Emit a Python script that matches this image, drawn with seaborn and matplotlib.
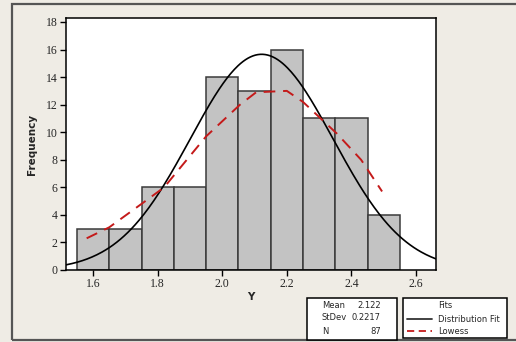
import numpy as np
import matplotlib
matplotlib.use("Agg")
import matplotlib.pyplot as plt
import seaborn as sns
from matplotlib.patches import Rectangle

# histogram bins (edges) and counts
bin_edges = [1.55, 1.65, 1.75, 1.85, 1.95, 2.05, 2.15, 2.25, 2.35, 2.45, 2.55]
counts = [3, 3, 6, 6, 14, 13, 16, 11, 11, 4]
bin_mids = [1.6, 1.7, 1.8, 1.9, 2.0, 2.1, 2.2, 2.3, 2.4, 2.5]

# summary stats
mean_y = 2.122
sd_y = 0.2217
n_obs = 87

# lowess curve points
lowess_x = [1.58, 1.65, 1.75, 1.82, 1.855, 1.95, 2.055, 2.105, 2.2, 2.25, 2.355, 2.43, 2.495]
lowess_y = [2.3, 3.1, 4.8, 6.0, 7.0, 9.7, 12.0, 12.9, 13.0, 12.2, 9.9, 8.0, 5.7]

sns.set_style("white")
bg = "#efece5"
red = "#c41a1a"
fig = plt.figure(figsize=(5.16, 3.42), dpi=100, facecolor=bg)
ax = fig.add_axes([66 / 516, 1 - 270 / 342, 370 / 516, 252 / 342])
ax.set_facecolor("white")

sns.histplot(x=bin_mids, weights=counts, bins=bin_edges, ax=ax,
             color="#c3c3c3", edgecolor="#3a3a3a", linewidth=1.1, alpha=1)

# distribution fit (normal scaled to counts)
xs = np.linspace(1.516, 2.662, 300)
bw = 0.1
ys = n_obs * bw / (sd_y * np.sqrt(2 * np.pi)) * np.exp(-0.5 * ((xs - mean_y) / sd_y) ** 2)
ax.plot(xs, ys, color="black", lw=1.2)
ax.plot(lowess_x, lowess_y, color=red, lw=1.4, ls=(0, (6, 4)))

ax.set_xlim(1.516, 2.662)
ax.set_ylim(0, 18.29)
ax.set_xticks([1.6, 1.8, 2.0, 2.2, 2.4, 2.6])
ax.set_xticklabels(["1.6", "1.8", "2.0", "2.2", "2.4", "2.6"])
ax.set_yticks(range(0, 19, 2))
for lab in ax.get_xticklabels() + ax.get_yticklabels():
    lab.set_family("Liberation Serif")
    lab.set_fontsize(8.5)
ax.tick_params(axis="both", direction="out", length=4, width=1, color="black", pad=2)
ax.tick_params(bottom=True, left=True)
for s in ax.spines.values():
    s.set_color("black")
    s.set_linewidth(1.1)

ax.set_xlabel("Y", fontsize=7.5, fontweight="bold", labelpad=1)
ax.set_ylabel("Frequency", fontsize=7.5, fontweight="bold", labelpad=6)

# outer frame
fig.patches.append(Rectangle((12 / 516, 2 / 342), 506 / 516, 336 / 342,
                             transform=fig.transFigure, fill=False,
                             edgecolor="#555555", lw=1.6))

# stats box
fig.patches.append(Rectangle((307 / 516, 1 - 340 / 342), 90 / 516, 42 / 342,
                             transform=fig.transFigure, facecolor="white",
                             edgecolor="black", lw=1.1))
fs = 6
for i, (k, v) in enumerate([("Mean", f"{mean_y}"), ("StDev", f"{sd_y}"), ("N", f"{n_obs}")]):
    yy = 1 - (305 + i * 13) / 342
    fig.text(322 / 516, yy, k, fontsize=fs, va="center", ha="left")
    fig.text(381 / 516, yy, v, fontsize=fs, va="center", ha="right")

# fits legend box
fig.patches.append(Rectangle((403 / 516, 1 - 338 / 342), 104 / 516, 40 / 342,
                             transform=fig.transFigure, facecolor="white",
                             edgecolor="black", lw=1.1))
fig.text(438 / 516, 1 - 306 / 342, "Fits", fontsize=fs, va="center", ha="left")
fig.add_artist(plt.Line2D([407 / 516, 432 / 516], [1 - 319 / 342] * 2,
                          transform=fig.transFigure, color="#333333", lw=1.3))
fig.text(438 / 516, 1 - 319 / 342, "Distribution Fit", fontsize=fs, va="center", ha="left")
fig.add_artist(plt.Line2D([407 / 516, 432 / 516], [1 - 331 / 342] * 2,
                          transform=fig.transFigure, color=red, lw=1.3,
                          ls=(0, (4, 2.5))))
fig.text(438 / 516, 1 - 331 / 342, "Lowess", fontsize=fs, va="center", ha="left")

fig.savefig("out.png", dpi=100, facecolor=bg)
